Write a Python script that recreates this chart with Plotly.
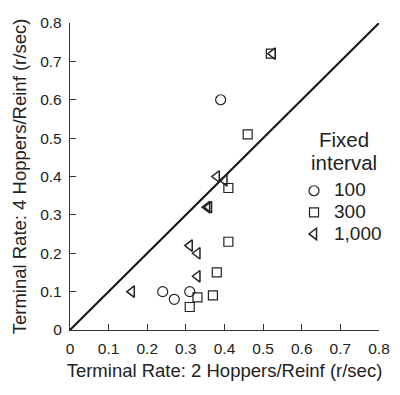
import plotly.graph_objects as go

# Data (x: 2 hoppers/reinf, y: 4 hoppers/reinf)
fi100_x = [0.39, 0.24, 0.27, 0.31]
fi100_y = [0.60, 0.10, 0.08, 0.10]
fi300_x = [0.52, 0.46, 0.41, 0.41, 0.38, 0.37, 0.33, 0.31]
fi300_y = [0.72, 0.51, 0.37, 0.23, 0.15, 0.09, 0.085, 0.06]
fi1000_x = [0.525, 0.38, 0.40, 0.355, 0.36, 0.31, 0.33, 0.33, 0.16]
fi1000_y = [0.72, 0.40, 0.39, 0.32, 0.32, 0.22, 0.20, 0.14, 0.10]
diag = [0, 0.8]
ticks = [0, 0.1, 0.2, 0.3, 0.4, 0.5, 0.6, 0.7, 0.8]
tick_labels = ["0", "0.1", "0.2", "0.3", "0.4", "0.5", "0.6", "0.7", "0.8"]
series_names = ["100", "300", "1,000"]

col = "#222222"
lab = lambda s: '<span style="font-size:19px">' + s + '</span>'
fig = go.Figure()
fig.add_trace(go.Scatter(x=diag, y=diag, mode="lines", line=dict(color="#111111", width=2),
                         showlegend=False, hoverinfo="skip"))
fig.add_trace(go.Scatter(x=fi100_x, y=fi100_y, mode="markers", name=lab(series_names[0]),
                         marker=dict(symbol="circle-open", size=10, color=col, line=dict(width=1.2))))
fig.add_trace(go.Scatter(x=fi300_x, y=fi300_y, mode="markers", name=lab(series_names[1]),
                         marker=dict(symbol="square-open", size=9, color=col, line=dict(width=1.2))))
fig.add_trace(go.Scatter(x=fi1000_x, y=fi1000_y, mode="markers", name=lab(series_names[2]),
                         marker=dict(symbol="triangle-left-open", size=10, color=col, line=dict(width=1.5))))

font = "Liberation Sans, Arial, sans-serif"
axis_common = dict(range=[0, 0.8], tickvals=ticks, ticktext=tick_labels, ticks="inside", ticklen=6,
                   tickcolor="#333", tickwidth=1.2, showline=True, linecolor="#333", linewidth=1.3,
                   showgrid=False, zeroline=False, tickfont=dict(size=15.5), automargin=False)
fig.update_layout(
    width=384, height=379,
    margin=dict(l=62, r=13, t=15, b=57, autoexpand=False),
    paper_bgcolor="white", plot_bgcolor="white",
    font=dict(family=font, color="#222222", size=15),
    xaxis=dict(**axis_common, ticklabelstandoff=4,
               title=dict(text="Terminal Rate: 2 Hoppers/Reinf (r/sec)", font=dict(size=18.5), standoff=8)),
    yaxis=dict(**axis_common, ticklabelstandoff=4,
               title=dict(text="Terminal Rate: 4 Hoppers/Reinf (r/sec)", font=dict(size=18.5), standoff=8)),
    legend=dict(x=0.725, y=0.505, xanchor="left", yanchor="top", font=dict(size=14.3),
                bgcolor="rgba(0,0,0,0)", itemwidth=30, tracegroupgap=0),
    annotations=[
        dict(text="Fixed", x=0.887, y=0.622, xref="paper", yref="paper", xanchor="center",
             yanchor="middle", showarrow=False, font=dict(size=20.5, family=font, color="#222222")),
        dict(text="interval", x=0.887, y=0.547, xref="paper", yref="paper", xanchor="center",
             yanchor="middle", showarrow=False, font=dict(size=20.5, family=font, color="#222222")),
    ],
)
fig.write_html("out.html")
